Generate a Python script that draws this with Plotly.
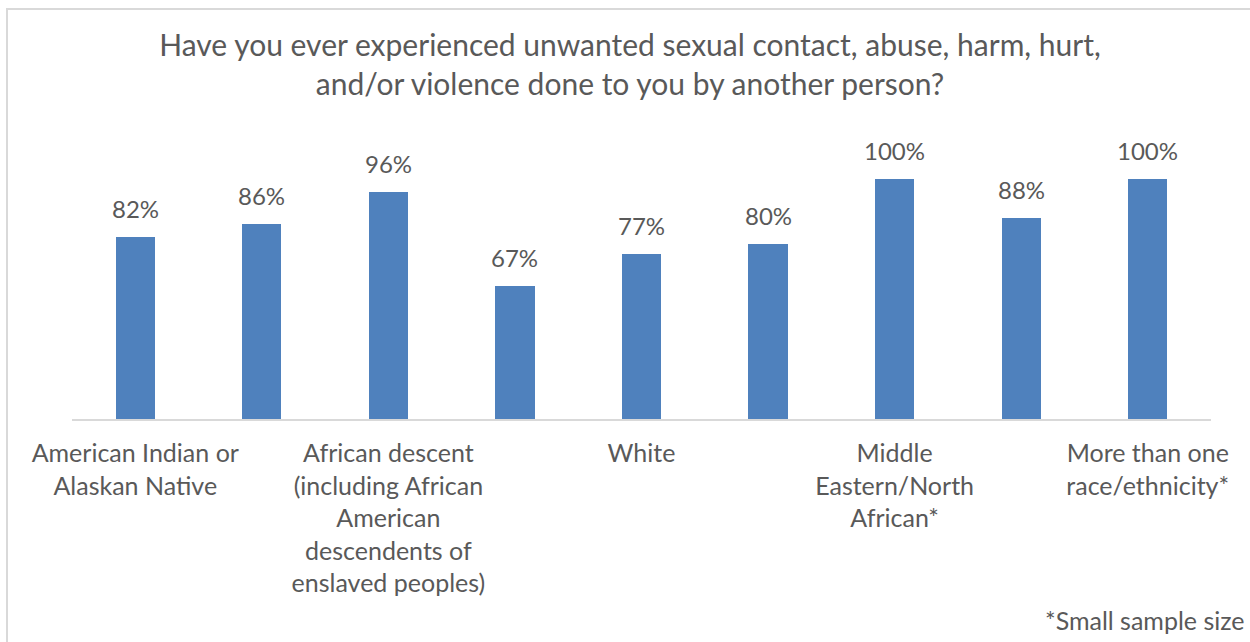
import plotly.graph_objects as go

# Survey responses by race/ethnicity (share answering "yes")
categories = [
    "American Indian or<br>Alaskan Native",
    "",
    "African descent<br>(including African<br>American<br>descendents of<br>enslaved peoples)",
    "",
    "White",
    "",
    "Middle<br>Eastern/North<br>African*",
    "",
    "More than one<br>race/ethnicity*",
]
values = [0.82, 0.86, 0.96, 0.67, 0.77, 0.80, 1.00, 0.88, 1.00]

title_text = ("Have you ever experienced unwanted sexual contact, abuse, harm, hurt,<br>"
              "and/or violence done to you by another person?")
footnote = "*Small sample size"

BAR = "#4F81BD"
TXT = "#595959"
FONT = "Lato, 'Open Sans', sans-serif"

W, H = 1250, 642
ML, MR, MT, MB = 72, 39, 150, 223

x_pos = list(range(len(values)))

fig = go.Figure()
fig.add_trace(go.Bar(
    x=x_pos,
    y=values,
    marker=dict(color=BAR, line=dict(width=0)),
    width=0.31,
    hoverinfo="skip",
))

# Value labels sitting above each bar
for xi, v in zip(x_pos, values):
    fig.add_annotation(
        x=xi, y=v, xref="x", yref="y",
        text=f"{v:.0%}", showarrow=False,
        yanchor="bottom", yshift=12,
        font=dict(family=FONT, size=24, color=TXT),
    )

plot_w = W - ML - MR
plot_h = H - MT - MB

# Footnote, bottom-right of the chart area
fig.add_annotation(
    xref="paper", yref="paper",
    x=(1247 - ML) / plot_w, y=-(637 - (H - MB)) / plot_h,
    xanchor="right", yanchor="bottom",
    text=footnote, showarrow=False,
    font=dict(family=FONT, size=25, color=TXT),
)

# Light chart-area border
fig.add_shape(
    type="rect", xref="paper", yref="paper",
    x0=(7 - ML) / plot_w, x1=(1262 - ML) / plot_w,
    y0=-(660 - (H - MB)) / plot_h, y1=1 + (MT - 9) / plot_h,
    line=dict(color="#D9D9D9", width=2), fillcolor="rgba(0,0,0,0)",
    layer="below",
)

fig.update_layout(
    width=W, height=H,
    margin=dict(l=ML, r=MR, t=MT, b=MB, pad=0),
    paper_bgcolor="white", plot_bgcolor="white",
    showlegend=False,
    bargap=0,
    title=dict(
        text=title_text, x=0.504, xanchor="center",
        y=1 - 56 / H, yanchor="top", yref="container",
        font=dict(family=FONT, size=30, color=TXT),
    ),
    xaxis=dict(
        range=[-0.5, len(values) - 0.5],
        tickmode="array", tickvals=x_pos, ticktext=categories,
        showgrid=False, zeroline=False,
        showline=True, linecolor="#D9D9D9", linewidth=2,
        ticks="", ticklabelstandoff=11,
        tickfont=dict(family=FONT, size=25, color=TXT),
        fixedrange=True,
    ),
    yaxis=dict(
        range=[0.261, 0.261 + plot_h / 325.15],
        visible=False, showgrid=False, zeroline=False,
        fixedrange=True,
    ),
)

fig.write_html("out.html")
